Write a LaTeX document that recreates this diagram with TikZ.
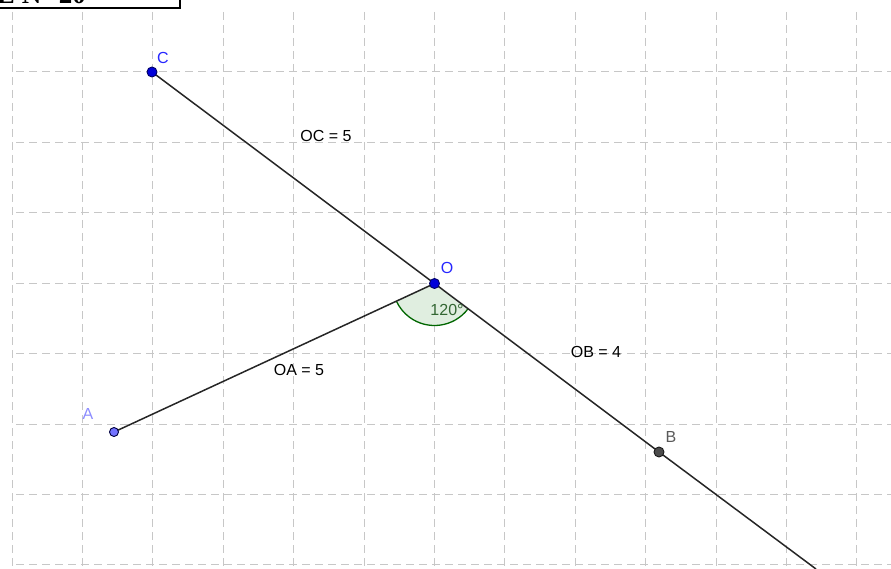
\documentclass[tikz,border=0pt]{standalone}
\usepackage{fontspec}
\setmainfont{Liberation Sans}
\newfontfamily\titlefont{Liberation Serif}
\begin{document}
\begin{tikzpicture}[x=1pt,y=-1pt,
  gridline/.style={draw=black!22, line width=1pt, dash pattern=on 8pt off 5pt},
  segline/.style={draw=black!85, line width=1.5pt},
  ptdot/.style={circle, inner sep=0pt, minimum size=10pt, line width=0.9pt},
  lbl/.style={font=\fontsize{16}{18}\selectfont, inner sep=0pt},
  ]
\useasboundingbox (0,0) rectangle (891,569);
\clip (0,0) rectangle (891,569);
% grid
\foreach \k in {0,...,12} {
  \draw[gridline] ({12+70.4*\k},12) -- ({12+70.4*\k},569);
}
\foreach \k in {1,...,8} {
  \draw[gridline] (16,{1.6+70.4*\k}) -- (891,{1.6+70.4*\k});
}
% title box
\draw[line width=2pt] (-10,8) -- (180,8) -- (180,-10);
\node[anchor=base east, inner sep=0pt, font=\titlefont\bfseries\fontsize{27}{30}\selectfont] (title) at (86,4) {E N° 20};
% points
\coordinate (C) at (152,72);
\coordinate (O) at (434.5,283.5);
\coordinate (A) at (114,432);
\coordinate (B) at (659,452);
\coordinate (E) at (816,569);
% angle sector
\fill[green!45!black!12!white] (O) -- ++(36.9:42) arc[start angle=36.9, end angle=155, radius=42] -- cycle;
\draw[draw=green!40!black, line width=1.3pt] (O) ++(36.9:42) arc[start angle=36.9, end angle=155, radius=42];
% segments
\draw[segline] (C) -- (O);
\draw[segline] (O) -- (B);
\draw[segline] (B) -- (E);
\draw[segline] (O) -- (A);
% dots
\node[ptdot, fill=blue!85!black, draw=blue!40!black] (Cd) at (C) {};
\node[ptdot, fill=blue!85!black, draw=blue!40!black] (Od) at (O) {};
\node[ptdot, fill=blue!55!white, draw=blue!25!black, minimum size=9pt] (Ad) at (A) {};
\node[ptdot, fill=black!70, draw=black!90] (Bd) at (B) {};
% labels
\node[lbl, text=blue!85!white] (Cl) at (163,58) {C};
\node[lbl, text=blue!85!white] (Ol) at (447,268) {O};
\node[lbl, text=blue!45!white] (Al) at (88,414) {A};
\node[lbl, text=black!65] (Bl) at (671,437) {B};
\node[lbl] (OCl) at (326,136) {OC = 5};
\node[lbl] (OBl) at (596,352) {OB = 4};
\node[lbl] (OAl) at (299,370) {OA = 5};
\node[lbl, text=green!25!black!80] (ang) at (447,310) {120°};
\end{tikzpicture}
\end{document}
